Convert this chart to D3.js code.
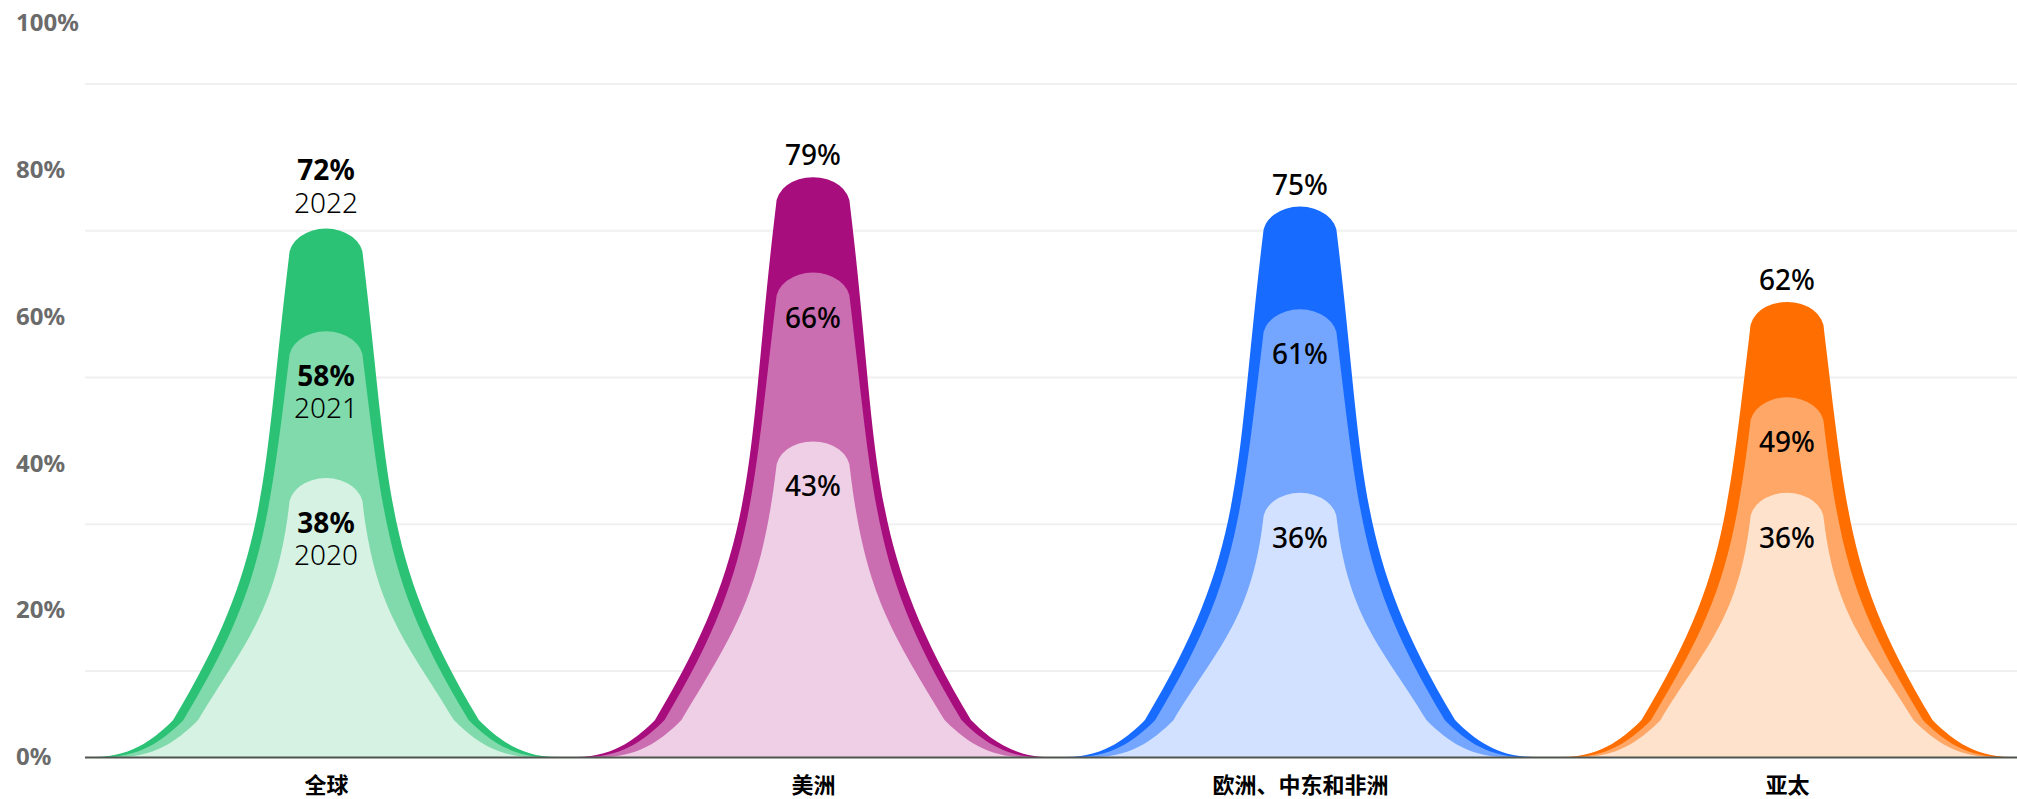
<!DOCTYPE html>
<html>
<head>
<meta charset="utf-8">
<script src="https://cdn.jsdelivr.net/npm/d3@7"></script>
<style>
  html, body { margin: 0; padding: 0; background: #ffffff; }
  svg { display: block; }
  text { font-family: "Noto Sans", "Open Sans", "Noto Sans CJK SC", sans-serif; }
</style>
</head>
<body>
<svg id="chart" width="2017" height="799"></svg>
<script>
// Regions and yearly shares (percent)
const categories = ["全球", "美洲", "欧洲、中东和非洲", "亚太"];
const values2022 = [72, 79, 75, 62];
const values2021 = [58, 66, 61, 49];
const values2020 = [38, 43, 36, 36];
const years = ["2022", "2021", "2020"];

// Axis ticks and horizontal guide lines
const yTicks = [0, 20, 40, 60, 80, 100];
const gridValues = [11.7, 31.7, 51.7, 71.7, 91.7];

// One hue per region: strong (2022), mid (2021), pale (2020)
const outerColors = ["#2cc275", "#a80d7e", "#186bff", "#ff6e00"];
const middleColors = ["#80daac", "#cb6db1", "#74a6ff", "#ffa766"];
const innerColors = ["#d5f2e3", "#eecfe5", "#d1e1ff", "#ffe2cc"];

const W = 2017, H = 799;
const svg = d3.select("#chart");

const y = d3.scaleLinear().domain([0, 100]).range([757, 23]);
const x = d3.scalePoint().domain(categories).range([326, 1787]);

const yb = y(0);

// guide lines
svg.append("g").selectAll("line")
  .data(gridValues)
  .join("line")
  .attr("x1", 85).attr("x2", W)
  .attr("y1", d => y(d)).attr("y2", d => y(d))
  .attr("stroke", "#f0f0f0")
  .attr("stroke-width", 2);

// y axis labels
const yAxis = d3.axisRight(y).tickValues(yTicks).tickFormat(d => d + "%").tickSize(0).tickPadding(0);
const yg = svg.append("g").attr("transform", "translate(16,0)").call(yAxis);
yg.select(".domain").remove();
yg.selectAll("text")
  .attr("font-size", 24)
  .attr("font-weight", 700)
  .attr("fill", "#6b6b6b")
  .attr("font-family", "'Noto Sans', sans-serif");

// Peak outline: rounded cap, flaring sides, soft tail to the baseline
function peakPath(cx, v) {
  const top = y(v);
  const h = yb - top;
  const r = 37, capH = 28, kh = 37;
  const kx = 100 + 0.1 * h;
  const wBase = kx + 78;
  const capY = h - capH;
  const span = capY - kh;
  const L1 = 0.35 * span, L2 = 0.5 * span;
  const P = (dx, up) => [cx + dx, yb - up];
  const p = d3.path();
  p.moveTo(...P(-wBase, 0));
  p.bezierCurveTo(...P(-wBase + 0.5 * (wBase - kx), 0), ...P(-kx - 15, kh - 15), ...P(-kx, kh));
  p.bezierCurveTo(...P(-kx + 0.6 * L1, kh + L1), ...P(-r - 0.12 * L2, capY - L2), ...P(-r, capY));
  const right = P(r, capY);
  let d = p.toString();
  d += `A${r},${capH} 0 0 1 ${right[0]},${right[1]}`;
  const q = d3.path();
  q.moveTo(...right);
  q.bezierCurveTo(...P(r + 0.12 * L2, capY - L2), ...P(kx - 0.6 * L1, kh + L1), ...P(kx, kh));
  q.bezierCurveTo(...P(kx + 15, kh - 15), ...P(wBase - 0.5 * (wBase - kx), 0), ...P(wBase, 0));
  d += q.toString().replace(/^M[^C]*/, "") + "Z";
  return d;
}

const layers = [
  { values: values2022, colors: outerColors },
  { values: values2021, colors: middleColors },
  { values: values2020, colors: innerColors }
];

const peaks = svg.append("g");
layers.forEach(layer => {
  peaks.append("g").selectAll("path")
    .data(categories)
    .join("path")
    .attr("d", (c, i) => peakPath(x(c), layer.values[i]))
    .attr("fill", (c, i) => layer.colors[i]);
});

// baseline
svg.append("line")
  .attr("x1", 85).attr("x2", W)
  .attr("y1", yb + 0.5).attr("y2", yb + 0.5)
  .attr("stroke", "#4f544f")
  .attr("stroke-width", 2);

// value labels
const labels = svg.append("g").attr("text-anchor", "middle").attr("fill", "#000");
categories.forEach((c, i) => {
  const cx = x(c);
  const first = i === 0;
  const weight = first ? 700 : 500;
  // top label (2022)
  const t22 = y(values2022[i]);
  labels.append("text")
    .attr("x", cx).attr("y", first ? t22 - 49 : t22 - 12)
    .attr("font-size", 28).attr("font-weight", weight)
    .text(values2022[i] + "%");
  if (first) {
    labels.append("text")
      .attr("x", cx).attr("y", t22 - 16)
      .attr("font-size", 28).attr("font-weight", 300)
      .text(years[0]);
  }
  // inner labels (2021, 2020)
  [[values2021, years[1]], [values2020, years[2]]].forEach(([vals, yr]) => {
    const t = y(vals[i]);
    labels.append("text")
      .attr("x", cx).attr("y", t + 55)
      .attr("font-size", 28).attr("font-weight", weight)
      .text(vals[i] + "%");
    if (first) {
      labels.append("text")
        .attr("x", cx).attr("y", t + 87)
        .attr("font-size", 28).attr("font-weight", 300)
        .text(yr);
    }
  });
});

// category axis
const xAxis = d3.axisBottom(x).tickSize(0).tickPadding(20);
const xg = svg.append("g").attr("transform", `translate(0,${yb})`).call(xAxis);
xg.select(".domain").remove();
xg.selectAll("text")
  .attr("font-size", 22)
  .attr("font-weight", 700)
  .attr("fill", "#000")
  .attr("font-family", "'Noto Sans CJK SC', sans-serif");
</script>
</body>
</html>
